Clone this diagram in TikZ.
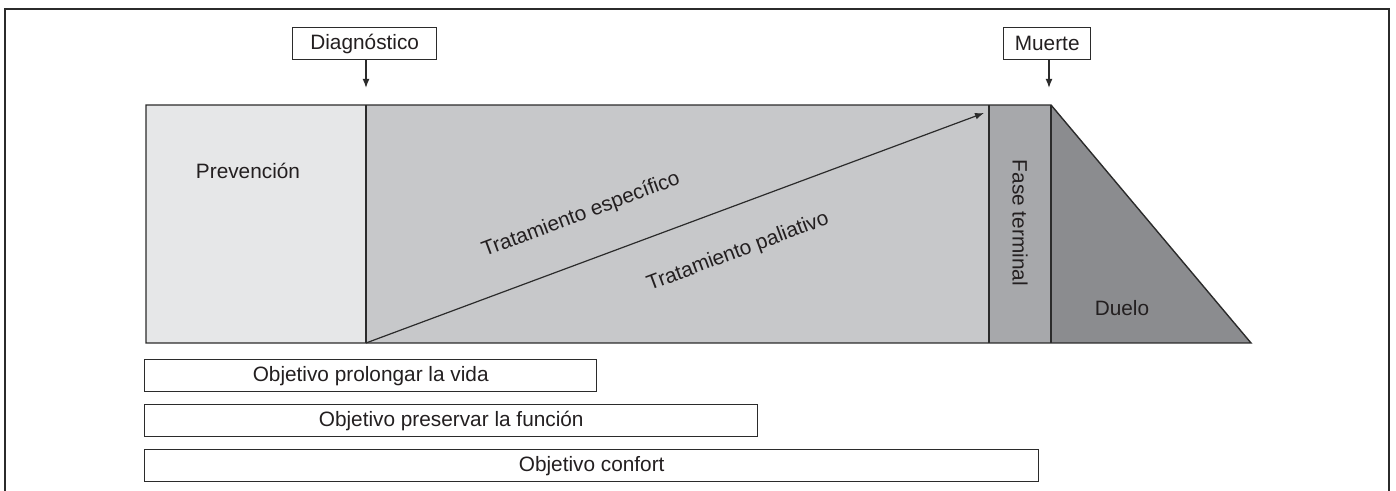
\documentclass[tikz,border=0pt]{standalone}
\usepackage{fontspec}
\setmainfont{Liberation Sans}
\usetikzlibrary{arrows.meta}
\definecolor{cPrev}{HTML}{E6E7E8}
\definecolor{cTrat}{HTML}{C7C8CA}
\definecolor{cFase}{HTML}{A7A8AB}
\definecolor{cDuelo}{HTML}{8B8C8F}
\definecolor{cLine}{HTML}{2B2B2B}
\definecolor{cText}{HTML}{231F20}
\begin{document}
\begin{tikzpicture}[x=0.5pt,y=-0.5pt,
  font=\fontsize{10.4}{12}\selectfont, text=cText,
  region/.style={draw=cLine, line width=0.7pt, line join=miter},
  labelbox/.style={draw=cLine, line width=0.7pt, fill=white, inner sep=0pt, minimum height=16pt, anchor=north west},
  txt/.style={inner sep=0pt},
  arr/.style={draw=cLine, line width=0.6pt, -{Latex[length=4.5pt,width=3.4pt]}}]
\useasboundingbox (0,0) rectangle (1396,491);
% outer frame (open at bottom)
\draw[cLine, line width=0.9pt] (5,491) -- (5,9) -- (1389,9) -- (1389,491);
% regions
\coordinate (tl) at (146,105);
\coordinate (d) at (366,105);
\coordinate (db) at (366,343);
\coordinate (f) at (989,105);
\coordinate (fb) at (989,343);
\coordinate (m) at (1051,105);
\coordinate (mb) at (1051,343);
\coordinate (te) at (1251,343);
\coordinate (bl) at (146,343);
\fill[cPrev] (tl) rectangle (db);
\fill[cTrat] (d) rectangle (fb);
\fill[cFase] (f) rectangle (mb);
\fill[cDuelo] (m) -- (te) -- (mb) -- cycle;
\draw[region] (tl) -- (m) -- (te) -- (bl) -- cycle;
\draw[region] (d) -- (db);
\draw[region] (f) -- (fb);
\draw[region] (m) -- (mb);
% diagonal arrow
\coordinate (tip) at (984,113);
\draw[arr] (db) -- (tip);
% region labels
\node[txt] (prev) at (248,171) {Prevención};
\node[txt, rotate=20.5] (tesp) at (581,215) {Tratamiento específico};
\node[txt, rotate=20.5] (tpal) at (738,252) {Tratamiento paliativo};
\node[txt, rotate=-90] (fase) at (1020,223) {Fase terminal};
\node[txt] (duelo) at (1122,308) {Duelo};
% event boxes
\node[labelbox, minimum width=72pt] (diag) at (292,27) {Diagnóstico};
\node[labelbox, minimum width=43.5pt] (muerte) at (1003,27) {Muerte};
\coordinate (diagT) at (366,88);
\coordinate (muerteT) at (1049,88);
\draw[arr] (diag.south -| diagT) -- (diagT);
\draw[arr] (muerte.south -| muerteT) -- (muerteT);
% objective boxes
\node[labelbox, minimum width=226pt] (obj1) at (144,359) {Objetivo prolongar la vida};
\node[labelbox, minimum width=306.5pt] (obj2) at (144,404) {Objetivo preservar la función};
\node[labelbox, minimum width=447pt] (obj3) at (144,449) {Objetivo confort};
\end{tikzpicture}
\end{document}
